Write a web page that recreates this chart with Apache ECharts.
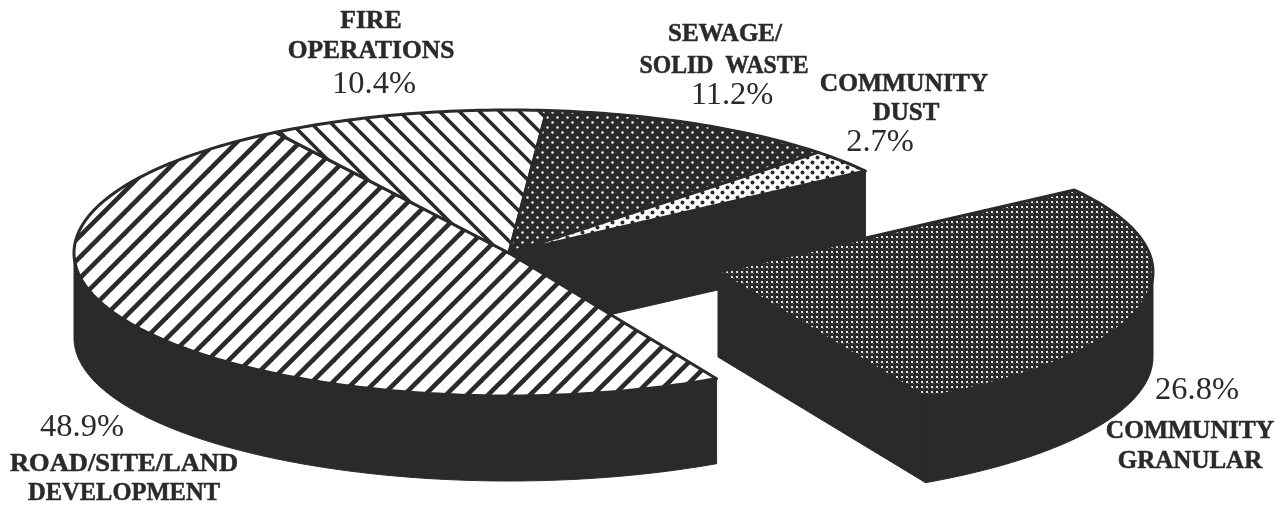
<!DOCTYPE html>
<html>
<head>
<meta charset="utf-8">
<style>html,body{margin:0;padding:0;background:#fff}#c{width:1288px;height:506px}</style>
<script src="https://cdn.jsdelivr.net/npm/echarts@6/dist/echarts.min.js"></script>
</head>
<body>
<div id="c"></div>
<script>
// ---------- data ----------
const categories = ['ROAD/SITE/LAND\nDEVELOPMENT', 'FIRE\nOPERATIONS', 'SEWAGE/\nSOLID  WASTE', 'COMMUNITY\nDUST', 'COMMUNITY\nGRANULAR'];
const shares = [48.9, 10.4, 11.2, 2.7, 26.8];

// ---------- layout and style ----------
const INK = '#2a2a2a';
const startAngle = 298.5;          // clockwise from here, degrees, on the un-tilted circle
const RX = 435, RY = 143, DEPTH = 85;
const centers = [[509,253],[509,253],[509,253],[509,253],[718,272]];
// name line centres [x, y, horizontal stretch], percent centre for each slice
const labelLayout = [
  {names:[[124,465,1.06],[124,494,0.98]], pct:[82,427]},
  {names:[[371,22,1.03],[371,52,1.02]], pct:[374,84]},
  {names:[[725,35,1],[724,67,0.95]], pct:[732,95]},
  {names:[[904,85,1.02],[906,114,1]], pct:[880,142]},
  {names:[[1190,432,1.02],[1190,462,1]], pct:[1197,390]}
];

function tile(w, h, draw){
  const cv = document.createElement('canvas'); cv.width = w; cv.height = h;
  draw(cv.getContext('2d'));
  return {image: cv, repeat: 'repeat'};
}
function hatch(period, width, dir, phase){
  return tile(period, period, g => {
    g.fillStyle = '#fff'; g.fillRect(0,0,period,period);
    g.strokeStyle = INK; g.lineWidth = width;
    for (let k = -3; k <= 4; k++){
      const o = k*period + phase;
      g.beginPath();
      if (dir > 0){ g.moveTo(o+2*period, -period); g.lineTo(o-period, 2*period); }   // "/"
      else { g.moveTo(o-period, -period); g.lineTo(o+2*period, 2*period); }          // "\"
      g.stroke();
    }
  });
}
function dots(size, bg, fg, r){
  return tile(size, size, g => {
    g.fillStyle = bg; g.fillRect(0,0,size,size);
    g.fillStyle = fg;
    [[size/4,size/4],[3*size/4,3*size/4]].forEach(p => { g.beginPath(); g.arc(p[0],p[1],r,0,7); g.fill(); });
  });
}
const fineDots = tile(5,5,g => {
  g.fillStyle = INK; g.fillRect(0,0,5,5);
  g.fillStyle = '#e4e4e4'; g.fillRect(1,1,2,2);
  g.fillStyle = '#6a6a6a'; g.fillRect(3,3,1,1);
});
const fills = [hatch(21,4.6,1,1), hatch(20,3.6,-1,8), dots(10,INK,'#fff',1.2), dots(10,'#fff',INK,2), fineDots];

const total = shares.reduce((a,b)=>a+b,0);
const pt = (c,deg) => { const t = deg*Math.PI/180; return [c[0]+RX*Math.cos(t), c[1]-RY*Math.sin(t)]; };
function arcPts(c,from,to){
  const out = [], n = Math.max(2,Math.ceil(Math.abs(from-to)));
  for (let i=0;i<=n;i++) out.push(pt(c, from+(to-from)*i/n));
  return out;
}
const down = p => [p[0],p[1]+DEPTH];

function renderItem(params, api){
  const i = params.dataIndex, c = centers[i];
  let before = 0; for (let k=0;k<i;k++) before += shares[k];
  const a0 = startAngle - before/total*360;
  const a1 = a0 - api.value(0)/total*360;   // clockwise on screen
  const children = [];
  const dark = pts => ({type:'polygon', z2:0, shape:{points:pts}, style:{fill:INK, stroke:INK, lineWidth:1}});

  // outer wall where the rim faces the viewer (angles 180..360)
  const wallHi = Math.min(a0,360), wallLo = Math.max(a1,180);
  if (wallHi > wallLo){
    const rim = arcPts(c,wallHi,wallLo);
    children.push(dark(rim.concat(rim.slice().reverse().map(down))));
  } else if (a1 < 0 && a0 > 0) {
    // slice crossing 0 degrees: rim visible from 0 down to its end
    const rim = arcPts(c,0,a1);
    children.push(dark(rim.concat(rim.slice().reverse().map(down))));
  }
  // cut faces seen by the viewer: the edge of the dust slice and of the pulled-out slice
  if (i===3 || i===4){
    const p = pt(c,a1);
    children.push(dark([c,p,down(p),down(c)]));
  }
  // top surface
  children.push({
    type:'polygon', z2: i===4 ? 3 : 2,
    shape:{points:[c].concat(arcPts(c,a0,a1))},
    style:{fill:fills[i], stroke:INK, lineWidth:3, lineJoin:'round'}
  });
  // labels
  const lay = labelLayout[i], names = categories[i].split('\n');
  names.forEach((t,k) => {
    const n = lay.names[k];
    children.push({type:'text', z2:5, x:n[0], y:n[1], scaleX:n[2], style:{
      text:t, x:0, y:0, align:'center', verticalAlign:'middle', fill:INK, stroke:INK, lineWidth:0.5,
      font:'bold 25px "Liberation Serif", serif'}});
  });
  children.push({type:'text', z2:5, style:{
    text:api.value(0).toFixed(1)+'%', x:lay.pct[0], y:lay.pct[1], align:'center', verticalAlign:'middle', fill:INK,
    font:'32.5px "Liberation Serif", serif'}});
  return {type:'group', children};
}

const chart = echarts.init(document.getElementById('c'), null, {renderer:'canvas', width:1288, height:506});
chart.setOption({
  animation:false,
  backgroundColor:'#fff',
  series:[{
    type:'custom', coordinateSystem:'none', silent:true, renderItem,
    data: shares.map((v,i)=>({name:categories[i].replace('\n',' '), value:[v]}))
  }]
});
</script>
</body>
</html>
